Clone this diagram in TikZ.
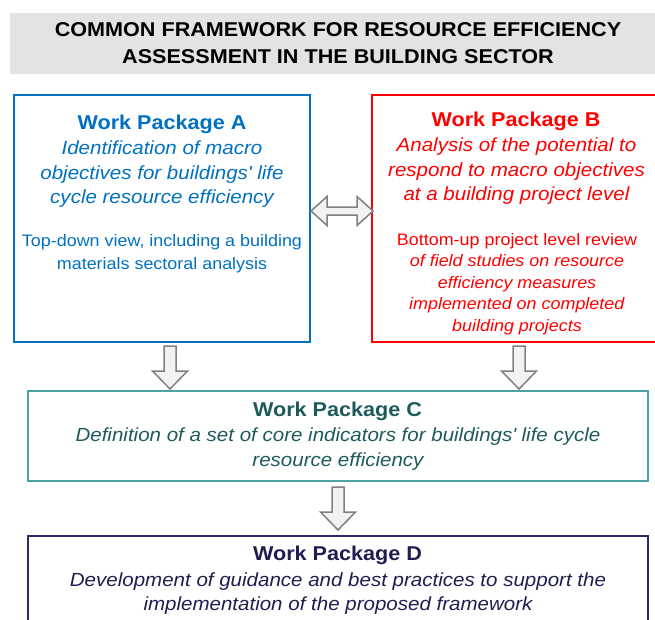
\documentclass[tikz,border=0pt]{standalone}
\usepackage{fontspec}
\setmainfont[FakeStretch=1.08]{Liberation Sans}
\usepackage{tikz}

\definecolor{wpA}{RGB}{0,112,192}
\definecolor{wpB}{RGB}{255,0,0}
\definecolor{wpCline}{RGB}{75,163,166}
\definecolor{wpCtext}{RGB}{30,90,92}
\definecolor{wpDline}{RGB}{42,42,110}
\definecolor{wpDtext}{RGB}{30,30,80}
\definecolor{band}{RGB}{227,227,227}
\definecolor{arrowfill}{RGB}{242,242,242}
\definecolor{arrowline}{RGB}{128,128,128}

\begin{document}
\begin{tikzpicture}
    [x=1pt,y=-1pt,inner sep=0pt,
      box/.style={draw,line width=2pt,minimum width=296pt,minimum height=247pt},
      widebox/.style={draw,line width=2pt,minimum width=620pt},
      wptitle/.style={anchor=base,font=\fontsize{20}{24}\selectfont\bfseries},
      objective/.style={anchor=north,align=center,font=\fontsize{19}{24.5}\selectfont\itshape},
      view/.style={anchor=north,align=center,font=\fontsize{16.6}{22.5}\selectfont},
      bigarrow/.style={fill=arrowfill,draw=arrowline,line width=1.5pt}]
      \useasboundingbox (0,0) rectangle (655,619);

      \node[fill=band,minimum width=656pt,minimum height=61pt,align=center,
        font=\fontsize{20}{27}\selectfont\bfseries] (header) at (338,43.5)
        {COMMON FRAMEWORK FOR RESOURCE EFFICIENCY\\ASSESSMENT IN THE BUILDING SECTOR};

      \node[box,draw=wpA] (boxA) at (162,218.5) {};
      \node[box,draw=wpB] (boxB) at (520,218.5) {};
      \node[widebox,draw=wpCline,minimum height=90pt] (boxC) at (338,436) {};
      \node[widebox,draw=wpDline,minimum height=100pt] (boxD) at (338,586) {};

      \node[wptitle,text=wpA] (titleA) at (162,129.3) {Work Package A};
      \node[objective,text=wpA] (objA) at (162,140.6)
        {Identification of macro\\objectives for buildings\textquotesingle{} life\\cycle resource efficiency};
      \node[view,text=wpA] (viewA) at (162,234.7)
        {Top-down view, including a building\\materials sectoral analysis};

      \node[wptitle,text=wpB] (titleB) at (516,126) {Work Package B};
      \node[objective,text=wpB,font=\fontsize{19}{24.2}\selectfont\itshape] (objB) at (516.5,138)
        {Analysis of the potential to\\respond to macro objectives\\at a building project level};
      \node[view,text=wpB,font=\fontsize{16.6}{21.5}\selectfont] (viewB) at (517,233)
        {Bottom-up project level review\\\textit{of field studies on resource}\\\textit{efficiency measures}\\
         \textit{implemented on completed}\\\textit{building projects}};

      \node[wptitle,text=wpCtext] (titleC) at (337.5,416.7) {Work Package C};
      \node[objective,text=wpCtext,font=\fontsize{19}{25}\selectfont\itshape] (objC) at (338,428)
        {Definition of a set of core indicators for buildings\textquotesingle{} life cycle\\resource efficiency};

      \node[wptitle,text=wpDtext] (titleD) at (337.5,560) {Work Package D};
      \node[objective,text=wpDtext,font=\fontsize{19}{23.3}\selectfont\itshape] (objD) at (338,573)
        {Development of guidance and best practices to support the\\implementation of the proposed framework};

      \draw[bigarrow] ([yshift=7.5pt]boxA.east) -- ++(16,-14.5) -- ++(0,10.5) -- ++(30,0) -- ++(0,-10.5)
        -- ++(16,14.5) -- ++(-16,14.5) -- ++(0,-10.5) -- ++(-30,0) -- ++(0,10.5) -- cycle;

      \foreach \from/\dx/\dy in {boxA/8/3,boxB/-1/3,boxC/0/5}
	\draw[bigarrow] ([xshift=\dx pt,yshift=-\dy pt]\from.south) ++(-6,0) -- ++(12,0) -- ++(0,25)
	  -- ++(11.5,0) -- ++(-17.5,18) -- ++(-17.5,-18) -- ++(11.5,0) -- cycle;

    \end{tikzpicture}
\end{document}
